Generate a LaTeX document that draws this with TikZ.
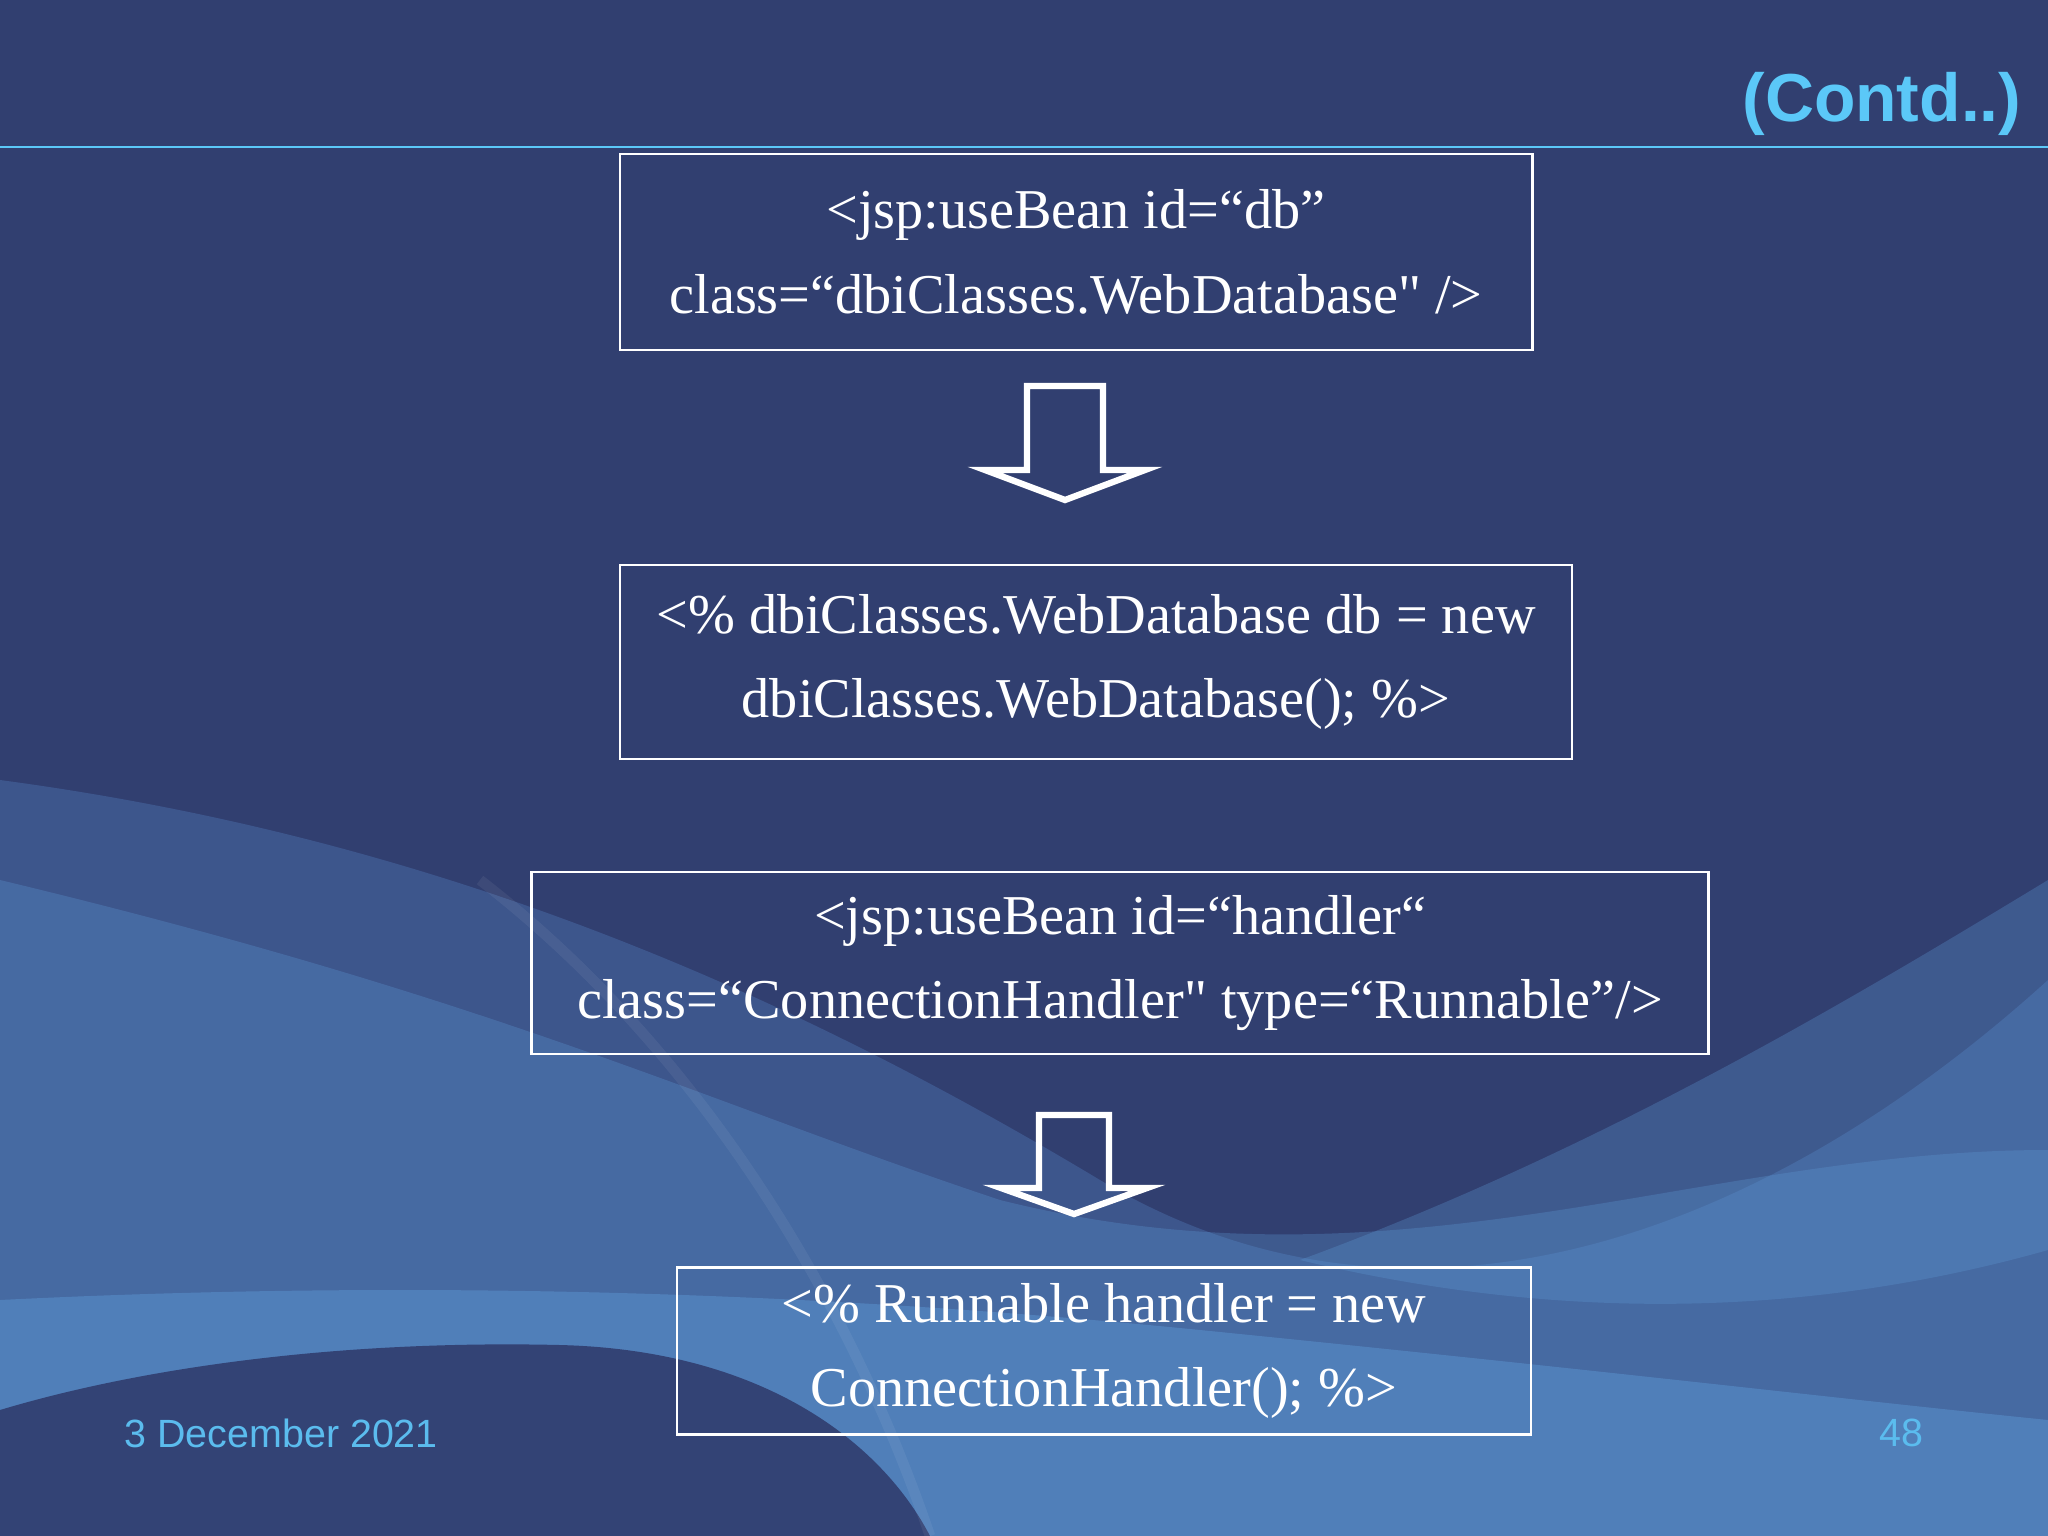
\documentclass[tikz,border=0pt]{standalone}
\usepackage{fontspec}
\setmainfont{Liberation Serif}
\setsansfont{Liberation Sans}
\usetikzlibrary{positioning}

\definecolor{slidebg}{HTML}{313F70}
\definecolor{wavemid}{HTML}{4C72B0}
\definecolor{wavelight}{HTML}{5E9AD6}
\definecolor{titleblue}{HTML}{5BC8F8}
\definecolor{footblue}{HTML}{5BBCEE}

\newcommand{\sq}{\textquotedbl}

\begin{document}
\begin{tikzpicture}[
    x=0.01cm, y=-0.01cm,
    codebox/.style={rectangle, draw=white, line width=0.7pt, text=white, align=center, inner sep=0pt, font=\fontsize{16}{24}\selectfont},
    blockarrow/.style={draw=white, line width=1.8pt, line join=miter},
    footer/.style={font=\sffamily\fontsize{11.2}{13}\selectfont, text=footblue, inner sep=0pt},
    title/.style={font=\sffamily\bfseries\fontsize{19.3}{23}\selectfont, text=titleblue, inner sep=0pt}
]

% Background
\fill[slidebg] (0,0) rectangle (2048,1536);
\useasboundingbox (0,0) rectangle (2048,1536);
\fill[wavemid, opacity=.45] (0,780) .. controls (450,840) and (800,1000) .. (1100,1180) .. controls (1400,1360) and (1750,1250) .. (2048,980) -- (2048,1536) -- (0,1536) -- cycle;
\fill[wavelight, opacity=.3] (0,880) .. controls (500,1000) and (700,1100) .. (1000,1200) .. controls (1400,1300) and (1700,1150) .. (2048,1150) -- (2048,1536) -- (0,1536) -- cycle;
\fill[wavelight, opacity=.3] (1300,1260) .. controls (1600,1150) and (1850,1000) .. (2048,880) -- (2048,1250) .. controls (1800,1320) and (1550,1320) .. (1300,1260) -- cycle;
\fill[wavelight, opacity=.45] (0,1300) .. controls (400,1280) and (800,1290) .. (1200,1330) .. controls (1600,1370) and (1850,1400) .. (2048,1420) -- (2048,1536) -- (0,1536) -- cycle;
\fill[slidebg!92!wavemid] (0,1410) .. controls (150,1365) and (350,1340) .. (560,1345) .. controls (760,1350) and (880,1440) .. (930,1536) -- (0,1536) -- cycle;
\draw[white, opacity=.06, line width=3pt] (480,880) .. controls (700,1050) and (850,1300) .. (930,1536);

% Header
\node[title, anchor=east] (contd) at (2022,104) {(Contd..)};
\draw[titleblue, line width=0.6pt] (0,147) -- (2048,147);

% Boxes
\node[codebox, minimum width=9.12cm, minimum height=1.96cm] (usebeandb) at (1076,252) {<jsp:useBean id=“db”\\class=“dbiClasses.WebDatabase\sq{} />};
\node[codebox, minimum width=9.51cm, minimum height=1.94cm] (newdb) at (1096,662) {<\% dbiClasses.WebDatabase db = new\\dbiClasses.WebDatabase(); \%>};
\node[codebox, minimum width=11.76cm, minimum height=1.82cm] (usebeanhandler) at (1120,963) {<jsp:useBean id=“handler“\\class=“ConnectionHandler\sq{} type=“Runnable”/>};
\node[codebox, minimum width=8.54cm, minimum height=1.67cm] (newhandler) at (1104,1351) {<\% Runnable handler = new\\ConnectionHandler(); \%>};

% Arrows
\coordinate (arrowone) at (1065,386);
\coordinate (arrowtwo) at (1074,1115);
\draw[blockarrow] (arrowone) ++(-38,0) -- ++(76,0) -- ++(0,84) -- ++(42,0) -- ++(-80,30) -- ++(-80,-30) -- ++(42,0) -- cycle;
\draw[blockarrow] (arrowtwo) ++(-35,0) -- ++(70,0) -- ++(0,73) -- ++(38,0) -- ++(-73,26) -- ++(-73,-26) -- ++(38,0) -- cycle;

% Footer
\node[footer, anchor=west] (date) at (124,1433) {3 December 2021};
\node[footer, anchor=east] (pagenum) at (1924,1433) {48};

\end{tikzpicture}
\end{document}
